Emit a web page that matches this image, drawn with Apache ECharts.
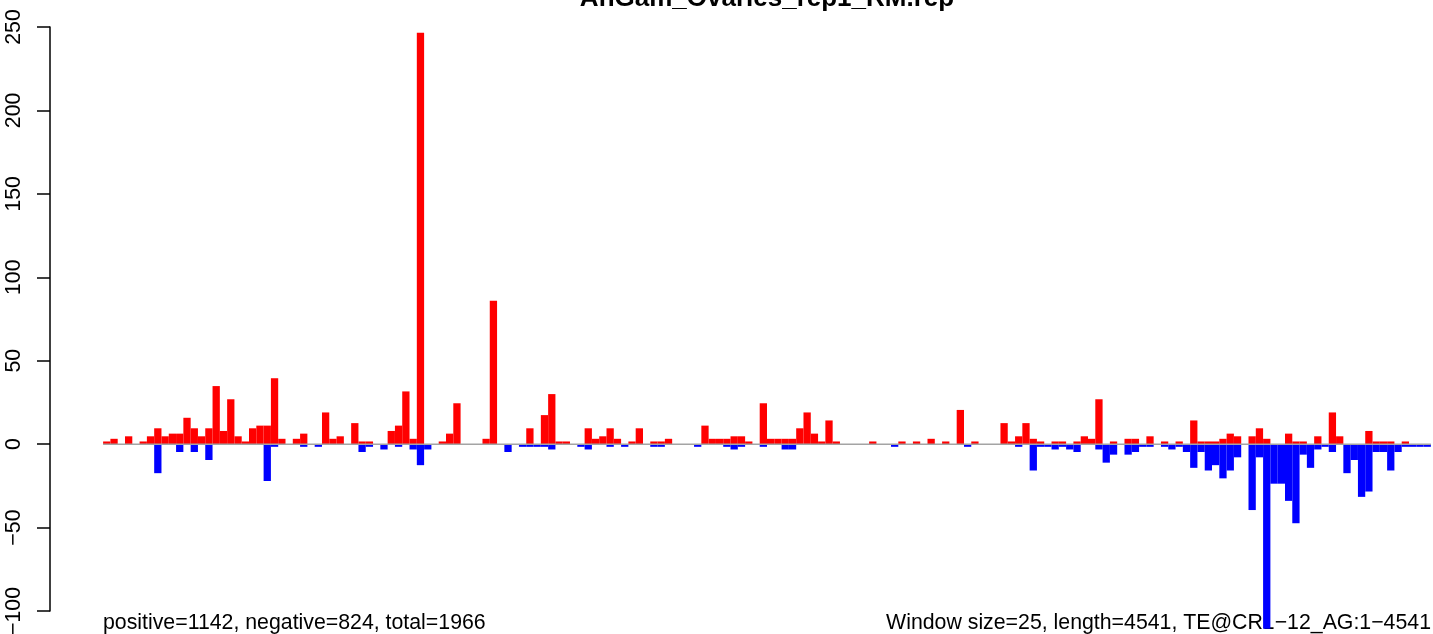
<!DOCTYPE html>
<html>
<head>
<meta charset="utf-8">
<title>AnGam_Ovaries_rep1_RM.rep</title>
<script src="https://cdn.jsdelivr.net/npm/echarts@6/dist/echarts.min.js"></script>
<style>
  html, body { margin: 0; padding: 0; background: #fff; }
  #chart { width: 1433px; height: 634px; }
</style>
</head>
<body>
<div id="chart"></div>
<script>
var chartTitle = 'AnGam_Ovaries_rep1_RM.rep';

// one value per 25 bp window, sense (red) and antisense (blue)
var posValues = [
	1.6, 3.2, 0, 4.7, 0, 1.6, 4.7, 9.5, 4.7, 6.3,
	6.3, 15.8, 9.5, 4.7, 9.5, 34.8, 7.9, 26.9, 4.7, 1.6,
	9.5, 11.1, 11.1, 39.5, 3.2, 0, 3.2, 6.3, 0, 0,
	19.0, 3.2, 4.7, 0, 12.6, 1.6, 1.6, 0, 0, 7.9,
	11.1, 31.6, 3.2, 246.5, 0, 0, 1.6, 6.3, 24.5, 0,
	0, 0, 3.2, 86, 0, 0, 0, 0, 9.5, 0,
	17.4, 30.0, 1.6, 1.6, 0, 0, 9.5, 3.2, 4.7, 9.5,
	3.2, 0, 1.6, 9.5, 0, 1.6, 1.6, 3.2, 0, 0,
	0, 0, 11.1, 3.2, 3.2, 3.2, 4.7, 4.7, 1.6, 0,
	24.5, 3.2, 3.2, 3.2, 3.2, 9.5, 19.0, 6.3, 1.6, 14.2,
	1.6, 0, 0, 0, 0, 1.6, 0, 0, 0, 1.6,
	0, 1.6, 0, 3.2, 0, 1.6, 0, 20.5, 0, 1.6,
	0, 0, 0, 12.6, 1.6, 4.7, 12.6, 3.2, 1.6, 0,
	1.6, 1.6, 0, 1.6, 4.7, 3.2, 26.9, 0, 1.6, 0,
	3.2, 3.2, 0, 4.7, 0, 1.6, 0, 1.6, 0, 14.2,
	1.6, 1.6, 1.6, 3.2, 6.3, 4.7, 0, 4.7, 9.5, 3.2,
	0, 0, 6.3, 1.6, 1.6, 0, 4.7, 0, 19.0, 4.7,
	0, 0, 0, 7.9, 1.6, 1.6, 1.6, 0, 1.6, 0,
	0, 0
];
var negValues = [
	0, 0, 0, 0, 0, 0, 0, -17.4, 0, 0,
	-4.7, 0, -4.7, 0, -9.5, 0, 0, 0, 0, 0,
	0, 0, -22.1, -1.6, 0, 0, 0, -1.6, 0, -1.6,
	0, 0, 0, 0, 0, -4.7, -1.6, 0, -3.2, 0,
	-1.6, 0, -3.2, -12.6, -3.2, 0, 0, 0, 0, 0,
	0, 0, 0, 0, 0, -4.7, 0, -1.6, -1.6, -1.6,
	-1.6, -3.2, 0, 0, 0, -1.6, -3.2, 0, 0, -1.6,
	0, -1.6, 0, 0, 0, -1.6, -1.6, 0, 0, 0,
	0, -1.6, 0, 0, 0, -1.6, -3.2, -1.6, 0, 0,
	-1.6, 0, 0, -3.2, -3.2, 0, 0, 0, 0, 0,
	0, 0, 0, 0, 0, 0, 0, 0, -1.6, 0,
	0, 0, 0, 0, 0, 0, 0, 0, -1.6, 0,
	0, 0, 0, 0, 0, -1.6, 0, -15.8, -1.6, -1.6,
	-3.2, -1.6, -3.2, -4.7, 0, 0, -3.2, -11.1, -6.3, 0,
	-6.3, -4.7, -1.6, -1.6, 0, -1.6, -3.2, -1.6, -4.7, -14.2,
	-4.7, -15.8, -12.6, -20.5, -15.8, -7.9, 0, -39.5, -7.9, -110.6,
	-23.7, -23.7, -34, -47.4, -6.3, -14.2, -3.2, -1.6, -4.7, 0,
	-17.4, -9.5, -31.6, -28.4, -4.7, -4.7, -15.8, -4.7, -1.6, -1.6,
	-1.6, -1.6
];
var yTicks = [-100, -50, 0, 50, 100, 150, 200, 250];
var leftNote = 'positive=1142, negative=824, total=1966';
var rightNote = 'Window size=25, length=4541, TE@CR1\u221212_AG:1\u22124541';

var fontFamily = '"Liberation Sans", Arial, Helvetica, sans-serif';
var binCount = posValues.length;
var pad = binCount * 0.04;

function toPairs(values) {
	var out = [];
	for (var i = 0; i < values.length; i++) {
		if (values[i] !== 0) out.push([i, values[i]]);
	}
	return out;
}

// each window is a rect from i to i+1 on the x scale
function drawBin(params, api) {
	var x = api.value(0);
	var a = api.coord([x, 0]);
	var b = api.coord([x + 1, api.value(1)]);
	return {
		type: 'rect',
		shape: {
			x: a[0],
			y: Math.min(a[1], b[1]),
			width: b[0] - a[0],
			height: Math.abs(b[1] - a[1])
		},
		style: { fill: api.visual('color') }
	};
}

var option = {
	animation: false,
	backgroundColor: '#fff',
	textStyle: { fontFamily: fontFamily },
	grid: { left: 50, top: 27, width: 1434, height: 584, containLabel: false, outerBoundsMode: 'none' },
	xAxis: {
		type: 'value',
		min: -pad,
		max: binCount + pad,
		show: false
	},
	yAxis: {
		type: 'value',
		min: yTicks[0],
		max: yTicks[yTicks.length - 1],
		interval: yTicks[1] - yTicks[0],
		axisLine: { show: true, onZero: false, lineStyle: { color: '#000', width: 1.5 } },
		axisTick: { show: true, length: 13, lineStyle: { color: '#000', width: 1.5 } },
		splitLine: { show: false },
		axisLabel: {
			rotate: 90,
			margin: 25,
			color: '#000',
			fontSize: 21.3,
			fontFamily: fontFamily,
			formatter: function(v) {
				return String(v).replace('-', '\u2212');
			}
		}
	},
	series: [{
		type: 'line',
		silent: true,
		symbol: 'none',
		data: [[0, 0], [binCount, 0]],
		lineStyle: { color: '#a4a4a4', width: 1.5 }
	}, {
		type: 'custom',
		name: 'positive',
		clip: false,
		renderItem: drawBin,
		itemStyle: { color: '#ff0000' },
		encode: { x: 0, y: 1 },
		data: toPairs(posValues)
	}, {
		type: 'custom',
		name: 'negative',
		clip: false,
		renderItem: drawBin,
		itemStyle: { color: '#0000ff' },
		encode: { x: 0, y: 1 },
		data: toPairs(negValues)
	}],
	graphic: [{
		type: 'text',
		x: 767,
		y: 12,
		style: {
			text: chartTitle,
			font: 'bold 26px ' + fontFamily,
			fill: '#000',
			align: 'center',
			verticalAlign: 'bottom'
		}
	}, {
		type: 'text',
		x: 103,
		y: 634,
		style: {
			text: leftNote,
			font: '21.3px ' + fontFamily,
			fill: '#000',
			align: 'left',
			verticalAlign: 'bottom'
		}
	}, {
		type: 'text',
		x: 1431,
		y: 634,
		style: {
			text: rightNote,
			font: '21.3px ' + fontFamily,
			fill: '#000',
			align: 'right',
			verticalAlign: 'bottom'
		}
	}]
};

var chart = echarts.init(document.getElementById('chart'));
chart.setOption(option, true);
</script>
</body>
</html>
